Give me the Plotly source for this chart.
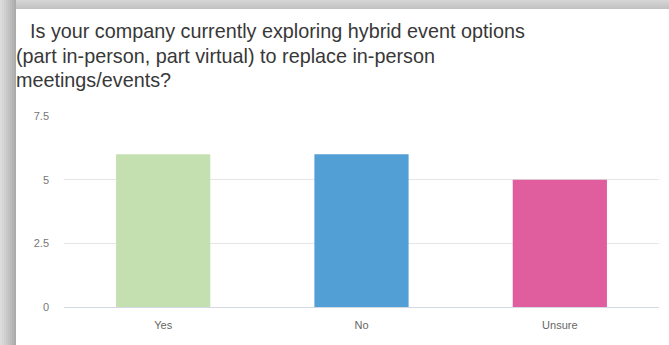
import plotly.graph_objects as go

# Survey answers
categories = ["Yes", "No", "Unsure"]
counts = [6, 6, 5]
bar_colors = ["#c4e0b0", "#529fd6", "#e05e9e"]

y_ticks = [0, 2.5, 5, 7.5]
y_tick_text = ["0", "2.5", "5", "7.5"]

title_lines = [
    "Is your company currently exploring hybrid event options",
    "(part in-person, part virtual) to replace in-person",
    "meetings/events?",
]

W, H = 669, 345
ML, MR, MT, MB = 64, 10, 116, 38
PW, PH = W - ML - MR, H - MT - MB


def px_x(p):
    return (p - ML) / PW


def px_y(p):
    return (H - MB - p) / PH


fig = go.Figure(
    go.Bar(
        x=categories,
        y=counts,
        marker=dict(color=bar_colors, line=dict(width=0)),
        width=0.475,
        hoverinfo="x+y",
    )
)

# Card background with soft shadow on the top and left edges
shapes = [
    dict(type="rect", xref="paper", yref="paper", layer="below",
         x0=px_x(0), x1=px_x(W), y0=px_y(H), y1=px_y(0),
         fillcolor="#d0d0d0", line=dict(width=0)),
]
left_shades = ["#dcdcdc", "#d6d6d6", "#d0d0d0", "#c9c9c9", "#c2c2c2", "#bbbbbb", "#b4b4b4", "#acacac"]
for i, c in enumerate(left_shades):
    shapes.append(dict(type="rect", xref="paper", yref="paper", layer="below",
                       x0=px_x(i * 2), x1=px_x(i * 2 + 2), y0=px_y(H), y1=px_y(0),
                       fillcolor=c, line=dict(width=0)))
top_shades = ["#d6d6d6", "#d0d0d0", "#cbcbcb", "#c6c6c6", "#c1c1c1"]
for i, c in enumerate(top_shades):
    shapes.append(dict(type="rect", xref="paper", yref="paper", layer="below",
                       x0=px_x(16), x1=px_x(W), y0=px_y(i * 1.8 + 1.8), y1=px_y(i * 1.8),
                       fillcolor=c, line=dict(width=0)))
shapes.append(dict(type="rect", xref="paper", yref="paper", layer="below",
                   x0=px_x(16), x1=px_x(W), y0=px_y(H), y1=px_y(9),
                   fillcolor="#ffffff", line=dict(width=0)))

# Title, one annotation per line
title_x = [28, 14, 14]
title_y = [31, 56, 80]
annotations = [
    dict(text=t, xref="paper", yref="paper", x=px_x(tx), y=px_y(ty),
         xanchor="left", yanchor="middle", showarrow=False,
         font=dict(family="Liberation Sans, Arial, sans-serif", size=19.8, color="#383838"))
    for t, tx, ty in zip(title_lines, title_x, title_y)
]

fig.update_layout(
    width=W,
    height=H,
    margin=dict(l=ML, r=MR, t=MT, b=MB, pad=0),
    paper_bgcolor="#ffffff",
    plot_bgcolor="rgba(0,0,0,0)",
    showlegend=False,
    bargap=0.525,
    font=dict(family="Liberation Sans, Arial, sans-serif", color="#666666", size=11),
    shapes=shapes,
    annotations=annotations,
    xaxis=dict(
        showgrid=False,
        showline=True,
        linecolor="#d3d9e2",
        linewidth=1,
        ticks="",
        ticklabelstandoff=8,
        tickfont=dict(size=11, color="#666666"),
        fixedrange=True,
    ),
    yaxis=dict(
        range=[0, 7.5],
        tickvals=y_ticks,
        ticktext=y_tick_text,
        showgrid=True,
        gridcolor="#e6e6e6",
        gridwidth=1,
        zeroline=False,
        showline=False,
        ticks="",
        ticklabelstandoff=14,
        tickfont=dict(size=11, color="#777777"),
        fixedrange=True,
    ),
)

fig.write_html("out.html")
